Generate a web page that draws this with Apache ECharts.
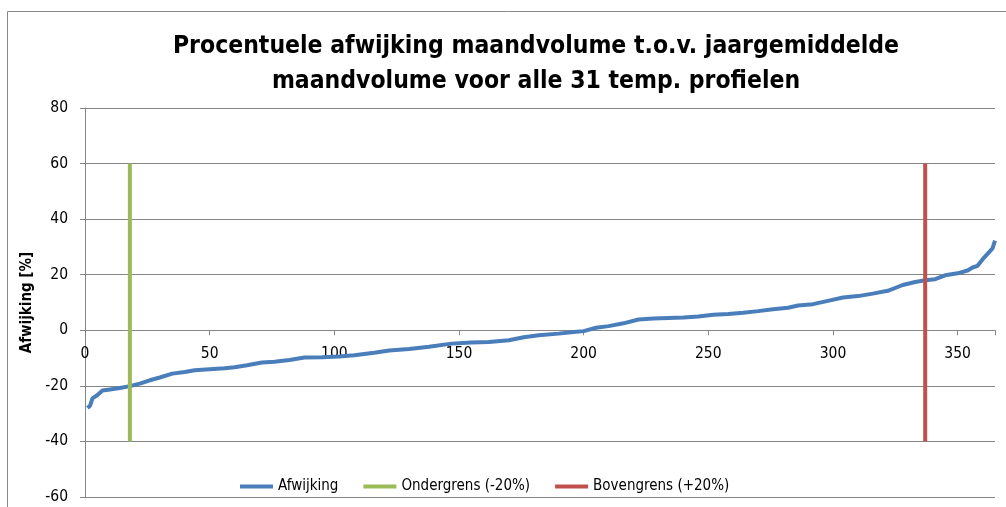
<!DOCTYPE html>
<html>
<head>
<meta charset="utf-8">
<script src="https://cdn.jsdelivr.net/npm/echarts@6/dist/echarts.min.js"></script>
<style>html,body{margin:0;padding:0;background:#fff}#c{width:1006px;height:507px}</style>
</head>
<body>
<div id="c"></div>
<script>
// Data
const titleText = "Procentuele afwijking maandvolume t.o.v. jaargemiddelde\nmaandvolume voor alle 31 temp. profielen";
const yAxisName = "Afwijking [%]";
const seriesNames = ["Afwijking", "Ondergrens (-20%)", "Bovengrens (+20%)"];
const xTicks = [0, 50, 100, 150, 200, 250, 300, 350];
const yTicks = [-60, -40, -20, 0, 20, 40, 60, 80];

const afwX = [1, 2, 3, 5, 7, 10, 14, 18, 22, 26, 30, 35, 40, 44, 50, 56, 60, 65, 71, 76, 82, 88, 95, 102, 108, 116, 122, 130, 138, 147, 155, 162, 170, 176, 182, 190, 196, 200, 205, 210, 216, 222, 228, 234, 240, 246, 252, 258, 264, 270, 276, 282, 286, 292, 298, 304, 310, 316, 322, 328, 333, 337, 341, 345, 350, 354, 356, 358, 360, 362, 364, 365];
const afwY = [-28.0, -27.2, -24.5, -23.3, -21.7, -21.3, -20.8, -20.1, -19.2, -18.0, -17.0, -15.6, -15.0, -14.4, -14.0, -13.7, -13.3, -12.6, -11.6, -11.3, -10.7, -9.8, -9.7, -9.4, -9.0, -8.1, -7.3, -6.7, -5.9, -4.8, -4.4, -4.2, -3.6, -2.5, -1.8, -1.2, -0.6, -0.3, 0.9, 1.5, 2.5, 3.9, 4.2, 4.4, 4.6, 5.0, 5.6, 5.9, 6.3, 6.9, 7.6, 8.1, 8.9, 9.4, 10.6, 11.8, 12.3, 13.2, 14.2, 16.3, 17.4, 18.0, 18.4, 19.8, 20.5, 21.5, 22.6, 23.2, 25.5, 27.5, 29.5, 32.3];

const lowerX = [18, 18];
const lowerY = [-40, 60];
const upperX = [337, 337];
const upperY = [-40, 60];

const colors = ["#4A7EBB", "#9BBB59", "#C0504D"];
const FONT = "'Liberation Sans Narrow', 'DejaVu Sans Condensed', 'Liberation Sans', sans-serif";

function pairs(xs, ys) { return xs.map((x, i) => [x, ys[i]]); }

// layout: plot area
const gridTop = 108, gridBottomPx = 497;
const yMin = yTicks[0], yMax = yTicks[yTicks.length - 1];
// shift x axis from bottom edge up to the y = 0 line
const xAxisOffset = -(gridBottomPx - (gridTop + (yMax / (yMax - yMin)) * (gridBottomPx - gridTop)));

const chart = echarts.init(document.getElementById('c'));
chart.setOption({
  animation: false,
  backgroundColor: '#fff',
  graphic: [{
    type: 'rect', shape: { x: 7.5, y: 11.5, width: 1010, height: 520 },
    style: { fill: 'none', stroke: '#888888', lineWidth: 1 }, silent: true, z: -1
  }],
  title: {
    text: titleText, left: 531, top: 24, textAlign: 'center',
    textStyle: { fontFamily: FONT, fontWeight: 'bold', fontSize: 24.5, lineHeight: 35, color: '#000' }
  },
  legend: {
    left: 240, top: 479, padding: 0, itemGap: 25, itemWidth: 33, itemHeight: 4, icon: 'rect',
    textStyle: { fontFamily: FONT, fontSize: 15, color: '#000' },
    data: seriesNames
  },
  grid: { left: 85, right: 11, top: gridTop, bottom: 507 - gridBottomPx, containLabel: false },
  xAxis: {
    type: 'value', min: 0, max: 365, interval: 50, position: 'bottom', offset: xAxisOffset,
    axisLine: { onZero: false, lineStyle: { color: '#868686', width: 1 } },
    axisTick: { show: true, length: 5, lineStyle: { color: '#868686' } },
    axisLabel: {
      margin: 16, fontFamily: FONT, fontSize: 15.5, color: '#000',
      formatter: v => xTicks.includes(v) ? String(v) : ''
    },
    splitLine: { show: false }
  },
  yAxis: {
    type: 'value', min: yMin, max: yMax, interval: 20,
    name: yAxisName, nameLocation: 'middle', nameGap: 50,
    nameTextStyle: { fontFamily: FONT, fontWeight: 'bold', fontSize: 15, color: '#000' },
    axisLine: { show: true, onZero: false, lineStyle: { color: '#868686', width: 1 } },
    axisTick: { show: true, length: 5, lineStyle: { color: '#868686' } },
    axisLabel: { margin: 17, fontFamily: FONT, fontSize: 15.5, color: '#000' },
    splitLine: { show: true, lineStyle: { color: '#868686', width: 1 } }
  },
  series: [
    { name: seriesNames[0], type: 'line', data: pairs(afwX, afwY), showSymbol: false, symbol: 'none',
      lineStyle: { color: colors[0], width: 4 }, itemStyle: { color: colors[0] }, z: 3 },
    { name: seriesNames[1], type: 'line', data: pairs(lowerX, lowerY), showSymbol: false, symbol: 'none',
      lineStyle: { color: colors[1], width: 4 }, itemStyle: { color: colors[1] }, z: 4 },
    { name: seriesNames[2], type: 'line', data: pairs(upperX, upperY), showSymbol: false, symbol: 'none',
      lineStyle: { color: colors[2], width: 4 }, itemStyle: { color: colors[2] }, z: 4 }
  ]
});
</script>
</body>
</html>
